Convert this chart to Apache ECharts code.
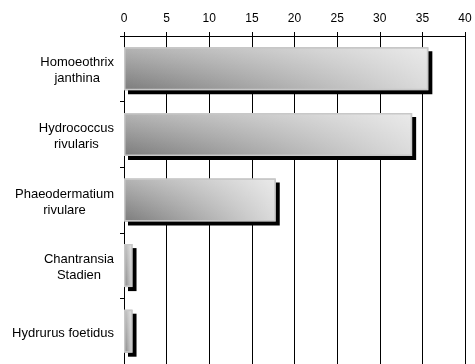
<!DOCTYPE html>
<html>
<head>
<meta charset="utf-8">
<script src="https://cdn.jsdelivr.net/npm/echarts@6/dist/echarts.min.js"></script>
<style>
  html, body { margin: 0; padding: 0; background: #fff; }
  #chart { width: 475px; height: 364px; }
</style>
</head>
<body>
<div id="chart"></div>
<script>
// 分类（自上而下）
const categories = [
  'Homoeothrix\njanthina',
  'Hydrococcus\nrivularis',
  'Phaeodermatium\nrivulare',
  'Chantransia\nStadien',
  'Hydrurus foetidus'
]
// 数值
const values = [35.7, 33.8, 17.8, 1.0, 1.0]
const xTicks = [0, 5, 10, 15, 20, 25, 30, 35, 40]

// 底色：上浅下深
const baseFill = new echarts.graphic.LinearGradient(0, 0, 0, 1, [
  { offset: 0, color: '#b4b4b4' },
  { offset: 1, color: '#7c7c7c' }
])
// 叠加：左透明右偏白
const glossFill = new echarts.graphic.LinearGradient(0, 0, 1, 0, [
  { offset: 0, color: 'rgba(255,255,255,0)' },
  { offset: 1, color: 'rgba(255,255,255,0.72)' }
])

const option = {
  animation: false,
  grid: { left: 124, right: 10, top: 36, bottom: 0, containLabel: false },
  textStyle: { fontFamily: 'Liberation Sans, Arial, sans-serif' },
  xAxis: {
    type: 'value',
    position: 'top',
    min: xTicks[0],
    max: xTicks[xTicks.length - 1],
    interval: 5,
    axisLine: { show: true, lineStyle: { color: '#000', width: 1 } },
    axisTick: { show: true, length: 4, lineStyle: { color: '#000' } },
    axisLabel: { color: '#000', fontSize: 12, margin: 11 },
    splitLine: { show: true, lineStyle: { color: '#000', width: 1 } }
  },
  yAxis: {
    type: 'category',
    inverse: true,
    data: categories,
    axisLine: { show: true, lineStyle: { color: '#000', width: 1 } },
    axisTick: { show: true, length: 4, lineStyle: { color: '#000' } },
    axisLabel: {
      color: '#000',
      margin: 10,
      align: 'right',
      padding: [4, 0, 0, 0],
      formatter: v => v.split('\n').map(s => '{c|' + s + '}').join('\n'),
      rich: {
        c: { align: 'center', fontSize: 13, lineHeight: 16, color: '#000', fontFamily: 'Liberation Sans, Arial, sans-serif' }
      }
    }
  },
  series: [
    {
      type: 'bar',
      data: values,
      barWidth: 43,
      itemStyle: {
        color: baseFill,
        borderWidth: 0,
        shadowColor: '#000',
        shadowBlur: 0,
        shadowOffsetX: 4,
        shadowOffsetY: 4
      }
    },
    {
      type: 'bar',
      data: values,
      barWidth: 43,
      barGap: '-100%',
      itemStyle: {
        color: glossFill,
        borderColor: '#c8c8c8',
        borderWidth: 1.5
      }
    }
  ]
}

const chart = echarts.init(document.getElementById('chart'))
chart.setOption(option)
</script>
</body>
</html>
